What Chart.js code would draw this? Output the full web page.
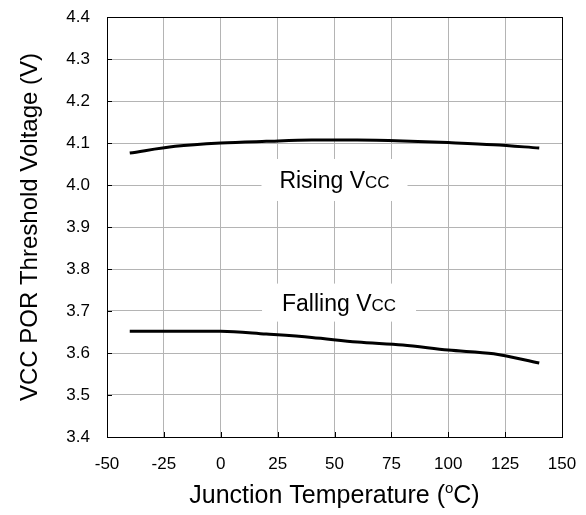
<!DOCTYPE html>
<html>
<head>
<meta charset="utf-8">
<script src="https://cdn.jsdelivr.net/npm/chart.js@4"></script>
<style>
  html, body { margin: 0; padding: 0; background: #fff; }
  #wrap { width: 586px; height: 515px; }
</style>
</head>
<body>
<div id="wrap"><canvas id="chart" width="586" height="515"></canvas></div>
<script>
// DATA
const temps = [-40, -20, 0, 20, 40, 60, 80, 100, 120, 140];
const risingVcc = [4.076, 4.092, 4.100, 4.104, 4.107, 4.107, 4.105, 4.101, 4.096, 4.088];
const fallingVcc = [3.652, 3.652, 3.652, 3.645, 3.637, 3.626, 3.619, 3.607, 3.598, 3.576];
const xTicks = [-50, -25, 0, 25, 50, 75, 100, 125, 150];
const yTicks = [3.4, 3.5, 3.6, 3.7, 3.8, 3.9, 4.0, 4.1, 4.2, 4.3, 4.4];

const FONT = "'Liberation Sans', Arial, sans-serif";

// text with a smaller "CC" part, drawn on a white box
function drawLabel(ctx, main, small, cx, cy, box) {
  ctx.save();
  ctx.font = "23px " + FONT;
  const w1 = ctx.measureText(main).width;
  ctx.font = "17px " + FONT;
  const w2 = ctx.measureText(small).width;
  const total = w1 + w2;
  ctx.fillStyle = "#fff";
  ctx.fillRect(cx - box.w / 2, cy - box.h / 2, box.w, box.h);
  ctx.fillStyle = "#000";
  ctx.textBaseline = "alphabetic";
  ctx.textAlign = "left";
  const base = cy + 8;
  ctx.font = "23px " + FONT;
  ctx.fillText(main, cx - total / 2, base);
  ctx.font = "17px " + FONT;
  ctx.fillText(small, cx - total / 2 + w1, base);
  ctx.restore();
}

const decorPlugin = {
  id: "decor",
  afterDatasetsDraw(chart) {
    const { ctx, chartArea: a, scales: { x, y } } = chart;
    ctx.save();
    // inner tick marks
    ctx.strokeStyle = "#000";
    ctx.lineWidth = 1;
    ctx.beginPath();
    xTicks.forEach(v => {
      const px = Math.round(x.getPixelForValue(v)) + 0.5;
      ctx.moveTo(px, a.bottom); ctx.lineTo(px, a.bottom - 5);
    });
    yTicks.forEach(v => {
      const py = Math.round(y.getPixelForValue(v)) + 0.5;
      ctx.moveTo(a.left, py); ctx.lineTo(a.left + 5, py);
    });
    ctx.stroke();
    // frame
    ctx.strokeStyle = "#000";
    ctx.strokeRect(a.left + 0.5, a.top + 0.5, a.right - a.left, a.bottom - a.top);
    ctx.restore();

    drawLabel(ctx, "Rising V", "CC", x.getPixelForValue(50), y.getPixelForValue(4.012), { w: 146, h: 42 });
    drawLabel(ctx, "Falling V", "CC", x.getPixelForValue(52), y.getPixelForValue(3.72), { w: 154, h: 38 });

    // axis titles
    ctx.save();
    ctx.fillStyle = "#000";
    ctx.textBaseline = "middle";
    // x title with superscript o
    const p1 = "Junction Temperature (", p2 = "o", p3 = "C)";
    ctx.font = "25px " + FONT;
    const w1 = ctx.measureText(p1).width, w3 = ctx.measureText(p3).width;
    ctx.font = "15px " + FONT;
    const w2 = ctx.measureText(p2).width;
    let sx = (a.left + a.right) / 2 - (w1 + w2 + w3) / 2;
    const ty = 496;
    ctx.textAlign = "left";
    ctx.font = "25px " + FONT;
    ctx.fillText(p1, sx, ty);
    ctx.font = "15px " + FONT;
    ctx.fillText(p2, sx + w1, ty - 7);
    ctx.font = "25px " + FONT;
    ctx.fillText(p3, sx + w1 + w2, ty);
    // y title
    ctx.translate(30, (a.top + a.bottom) / 2);
    ctx.rotate(-Math.PI / 2);
    ctx.textAlign = "center";
    ctx.font = "24px " + FONT;
    ctx.fillText("VCC POR Threshold Voltage (V)", 0, 0);
    ctx.restore();
  }
};

function noPad(s) {
  s.paddingTop = 0; s.paddingBottom = 0; s.paddingLeft = 0; s.paddingRight = 0;
}

new Chart(document.getElementById("chart"), {
  type: "line",
  data: {
    datasets: [
      { label: "Rising", data: temps.map((t, i) => ({ x: t, y: risingVcc[i] })) },
      { label: "Falling", data: temps.map((t, i) => ({ x: t, y: fallingVcc[i] })) }
    ].map(d => Object.assign(d, {
      borderColor: "#000",
      borderWidth: 3,
      pointRadius: 0,
      cubicInterpolationMode: "monotone",
      fill: false
    }))
  },
  options: {
    responsive: false,
    animation: false,
    devicePixelRatio: 1,
    layout: { padding: { left: 0, top: 17, right: 24, bottom: 0 } },
    plugins: { legend: { display: false }, tooltip: { enabled: false } },
    scales: {
      x: {
        type: "linear",
        min: -50, max: 150,
        afterFit: s => { s.height = 78; noPad(s); },
        afterBuildTicks: s => { s.ticks = xTicks.map(v => ({ value: v })); },
        ticks: { color: "#000", font: { family: FONT, size: 17 }, padding: 17, maxRotation: 0 },
        grid: { color: "#b4b4b4", lineWidth: 1, drawTicks: false },
        border: { display: false }
      },
      y: {
        type: "linear",
        min: 3.4, max: 4.4,
        afterFit: s => { s.width = 107; noPad(s); },
        afterBuildTicks: s => { s.ticks = yTicks.map(v => ({ value: v })); },
        ticks: { color: "#000", font: { family: FONT, size: 17 }, padding: 17, callback: v => v.toFixed(1) },
        grid: { color: "#b4b4b4", lineWidth: 1, drawTicks: false },
        border: { display: false }
      }
    }
  },
  plugins: [decorPlugin]
});
</script>
</body>
</html>
